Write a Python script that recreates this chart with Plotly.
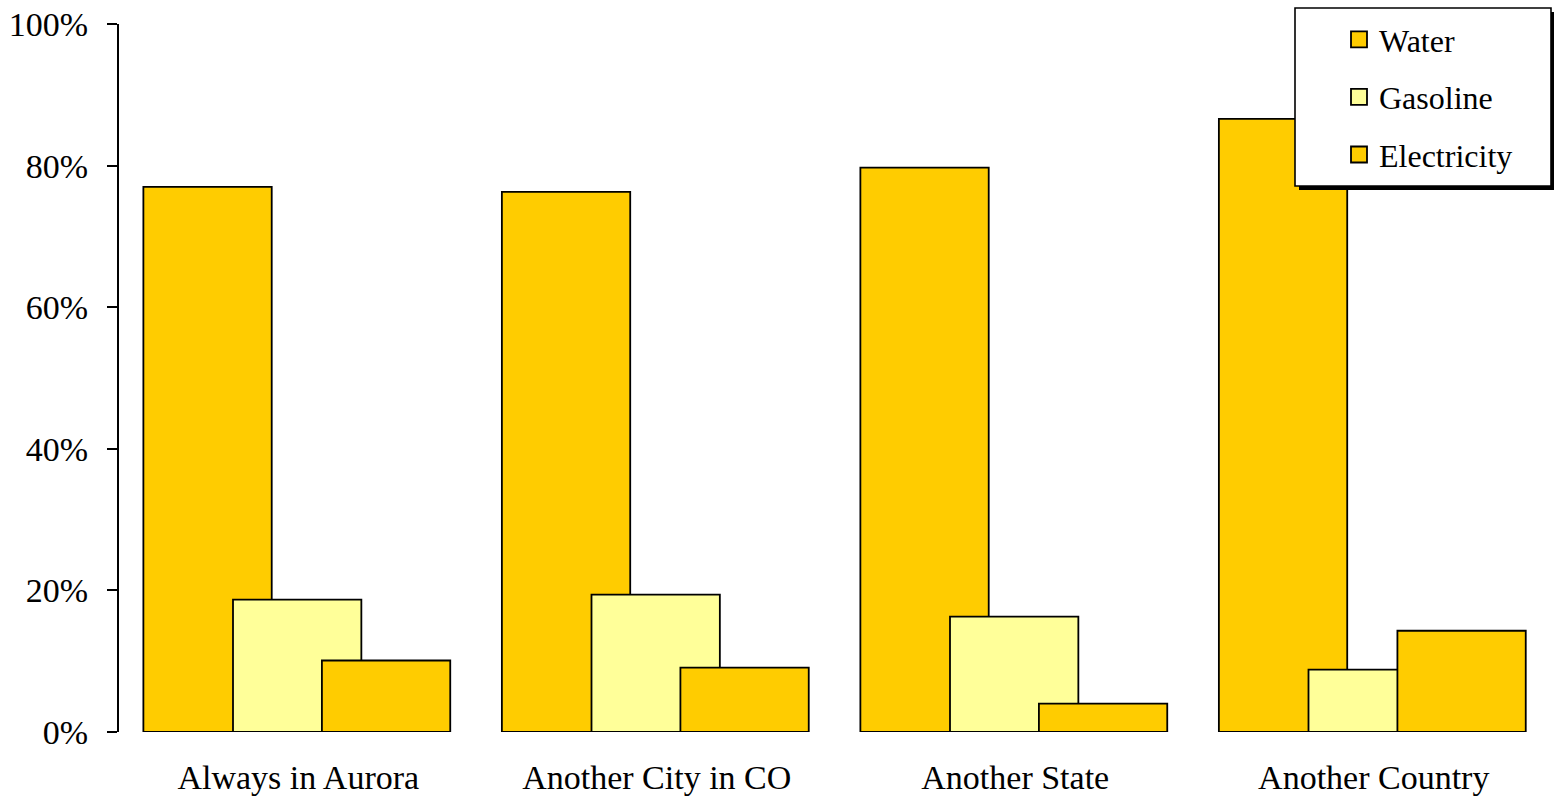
import plotly.graph_objects as go

categories = ["Always in Aurora", "Another City in CO", "Another State", "Another Country"]
water = [77.0, 76.3, 79.7, 86.6]
gasoline = [18.7, 19.4, 16.3, 8.8]
electricity = [10.1, 9.1, 4.0, 14.3]
y_ticks = [0, 20, 40, 60, 80, 100]
y_tick_labels = ["0%", "20%", "40%", "60%", "80%", "100%"]

series = [
    ("Water", water, "#FFCC00", -0.432),
    ("Gasoline", gasoline, "#FFFF99", -0.182),
    ("Electricity", electricity, "#FFCC00", 0.066),
]

FONT = "Liberation Serif"
FS = 34
W, H = 1554, 800
L, R, T, B = 119, 1, 24, 68

fig = go.Figure()
xs = list(range(len(categories)))
for name, vals, color, off in series:
    fig.add_trace(go.Bar(
        x=xs, y=vals, name=name, offset=off, width=0.358,
        marker=dict(color=color, line=dict(color="black", width=1.8)),
        showlegend=False, hoverinfo="skip",
    ))
for i, (name, vals, color, off) in enumerate(series):
    fig.add_trace(go.Scatter(
        x=[None], y=[None], mode="markers", name=name,
        legendgroup=f"g{i}",
        marker=dict(symbol="square", size=16, color=color, line=dict(color="black", width=1.8)),
    ))

pw = W - L - R
ph = H - T - B
def px2x(px):
    return (px - L) / pw
def px2y(py):
    return (H - B - py) / ph

# legend frame with drop shadow
fig.add_shape(type="rect", xref="paper", yref="paper",
              x0=px2x(1299), x1=px2x(1556), y0=px2y(190), y1=px2y(12),
              fillcolor="black", line=dict(width=0), layer="above")
fig.add_shape(type="rect", xref="paper", yref="paper",
              x0=px2x(1295), x1=px2x(1551), y0=px2y(186), y1=px2y(8),
              fillcolor="white", line=dict(color="black", width=1.6), layer="above")

fig.update_layout(
    width=W, height=H,
    margin=dict(l=L, r=R, t=T, b=B, pad=0),
    paper_bgcolor="white", plot_bgcolor="white",
    barmode="overlay",
    font=dict(family=FONT, size=FS, color="black"),
    showlegend=True,
    legend=dict(
        x=px2x(1339), y=px2y(12), xanchor="left", yanchor="top",
        bgcolor="rgba(0,0,0,0)", borderwidth=0,
        traceorder="grouped", tracegroupgap=13,
        font=dict(family=FONT, size=32, color="black"),
    ),
    xaxis=dict(
        range=[-0.5, 3.5], tickmode="array", tickvals=xs, ticktext=categories,
        showline=False, showgrid=False, zeroline=False, ticks="",
        ticklabelstandoff=22,
    ),
    yaxis=dict(
        range=[0, 100], tickmode="array", tickvals=y_ticks, ticktext=y_tick_labels,
        showline=True, linecolor="black", linewidth=2,
        ticks="outside", ticklen=10, tickwidth=2, tickcolor="black",
        showgrid=False, zeroline=False, ticklabelstandoff=12,
    ),
)

fig.write_html("out.html")
